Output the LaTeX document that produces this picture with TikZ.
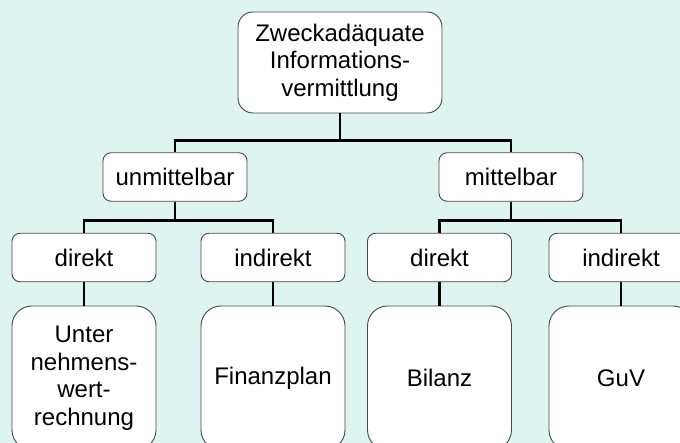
\documentclass[tikz,border=0pt]{standalone}
\usepackage{fontspec}
\setmainfont{Liberation Sans}
\usetikzlibrary{calc}
\definecolor{bgmint}{RGB}{221,244,240}
\definecolor{boxline}{RGB}{70,70,70}
\begin{document}
\begin{tikzpicture}[x=1pt,y=1pt,
  box/.style={draw=boxline, line width=0.9pt, fill=white, inner sep=0pt, align=center,
    font=\fontsize{24}{27.5}\selectfont},
  smallbox/.style={box, minimum width=144pt, minimum height=48.5pt, rounded corners=8pt},
  bigbox/.style={box, minimum width=144pt, minimum height=144pt, rounded corners=20pt},
  conn/.style={line width=2.6pt, black}]
\fill[bgmint] (0,0) rectangle (680,-443);
\useasboundingbox (0,0) rectangle (680,-443);
% nodes
\node[box, minimum width=204pt, minimum height=101pt, rounded corners=15pt] (top) at (340,-62.5)
  {Zweckadäquate\\Informations-\\vermittlung};
\node[smallbox] (un) at (175,-177) {unmittelbar};
\node[smallbox] (mi) at (511,-177) {mittelbar};
\node[smallbox] (d1) at (84,-257.5) {direkt};
\node[smallbox] (i1) at (273,-257.5) {indirekt};
\node[smallbox] (d2) at (439.5,-257.5) {direkt};
\node[smallbox] (i2) at (621,-257.5) {indirekt};
\node[bigbox] (uw) at (84,-378) {Unter\\nehmens-\\wert-\\rechnung};
\node[bigbox] (fp) at (273,-378) {Finanzplan};
\node[bigbox] (bi) at (439.5,-378) {Bilanz};
\node[bigbox] (gv) at (621,-378) {GuV};
% connectors
\draw[conn] (top.south) |- ($(un.north)+(0,12)$) -- (un.north);
\draw[conn] (top.south) |- ($(mi.north)+(0,12)$) -- (mi.north);
\draw[conn] (un.south) |- ($(d1.north)+(0,12)$) -- (d1.north);
\draw[conn] (un.south) |- ($(i1.north)+(0,12)$) -- (i1.north);
\draw[conn] (mi.south) |- ($(d2.north)+(0,12)$) -- (d2.north);
\draw[conn] (mi.south) |- ($(i2.north)+(0,12)$) -- (i2.north);
\draw[conn] (d1) -- (uw);
\draw[conn] (i1) -- (fp);
\draw[conn] (d2) -- (bi);
\draw[conn] (i2) -- (gv);
\end{tikzpicture}
\end{document}
